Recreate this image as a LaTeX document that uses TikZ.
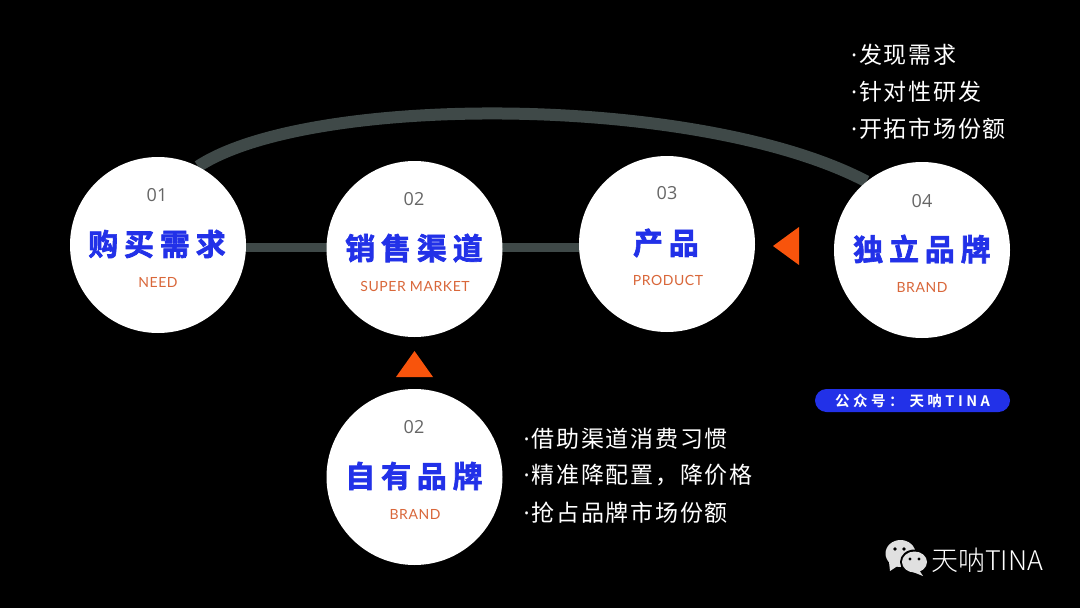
\documentclass[tikz,border=0pt]{standalone}
\usepackage{fontspec}
\usetikzlibrary{backgrounds}
\setmainfont{Lato}
\newfontfamily\cjk{Noto Sans CJK SC}
\newfontfamily\cjkt[LetterSpace=19.5,FakeBold=2.2]{Noto Sans CJK SC Bold}
\newfontfamily\cjkl[LetterSpace=7.5]{Noto Sans CJK SC}
\newfontfamily\cjkp[LetterSpace=24]{Noto Sans CJK SC Bold}
\newfontfamily\cjkg{Noto Sans CJK SC Light}
\newfontfamily\lat{Open Sans}
\newfontfamily\latl[LetterSpace=4]{Lato}
\newcommand{\lstdot}{\makebox[10pt][c]{\lat ·}}
\definecolor{bgk}{HTML}{000000}
\definecolor{linegray}{HTML}{3F4948}
\definecolor{titleblue}{HTML}{2231E8}
\definecolor{suborange}{HTML}{D9673A}
\definecolor{triorange}{HTML}{F8540C}
\definecolor{numgray}{HTML}{666666}
\tikzset{
  x=1pt,y=-1pt,
  disc/.style={circle,fill=white,minimum size=176pt,inner sep=0pt},
  numtext/.style={font=\lat\fontsize{18}{18}\selectfont,text=numgray,inner sep=0pt},
  titletext/.style={font=\cjkt\fontsize{30}{30}\selectfont,text=titleblue,inner sep=0pt},
  subtext/.style={font=\latl\fontsize{14}{14}\selectfont,text=suborange,inner sep=0pt},
  listtext/.style={font=\cjkl\fontsize{23}{23}\selectfont,text=white,inner sep=0pt,anchor=west},
  tri/.style={fill=triorange},
  conn/.style={draw=linegray,line cap=butt},
  bubble/.style={fill=white!88!black}
}
\begin{document}
\begin{tikzpicture}
\useasboundingbox (0,0) rectangle (1080,608);
\node[disc] (n1) at (158,245) {};
\node[disc] (n2) at (414.5,249) {};
\node[disc] (n3) at (667,244) {};
\node[disc] (n4) at (922,250) {};
\node[disc] (n5) at (414.5,477) {};
\coordinate (hline) at (0,247.5);
\begin{pgfonlayer}{background}
\fill[bgk] (0,0) rectangle (1080,608);
\draw[conn,line width=9pt] (n1|-hline) -- (n2|-hline);
\draw[conn,line width=9pt] (n2|-hline) -- (n3|-hline);
\draw[conn,line width=12pt] (n1.63) .. controls (310,93) and (700,94) .. (n4.129);
\end{pgfonlayer}
\node[numtext] (a1) at (157,195) {01};
\node[titletext] (b1) at (157,244) {购买需求};
\node[subtext] (c1) at (158,282) {NEED};
\node[numtext] (a2) at (414,199) {02};
\node[titletext] (b2) at (414,248) {销售渠道};
\node[subtext] (c2) at (415,286) {SUPER MARKET};
\node[numtext] (a3) at (667,193) {03};
\node[titletext] (b3) at (666,243) {产品};
\node[subtext] (c3) at (668,280) {PRODUCT};
\node[numtext] (a4) at (922,201) {04};
\node[titletext] (b4) at (922,249) {独立品牌};
\node[subtext] (c4) at (922,287) {BRAND};
\node[numtext] (a5) at (414,427) {02};
\node[titletext] (b5) at (414,476) {自有品牌};
\node[subtext] (c5) at (415,514) {BRAND};
\fill[tri] (773,246) -- (799,227) -- (799,265) -- cycle;
\fill[tri] (414.5,351) -- (396,377) -- (433,377) -- cycle;
\node[listtext] (t1) at (849,54.5) {\lstdot 发现需求};
\node[listtext] (t2) at (849,91.5) {\lstdot 针对性研发};
\node[listtext] (t3) at (849,128.5) {\lstdot 开拓市场份额};
\node[listtext] (t4) at (521.5,438.5) {\lstdot 借助渠道消费习惯};
\node[listtext] (t5) at (521.5,475.5) {\lstdot 精准降配置，降价格};
\node[listtext] (t6) at (521.5,512.5) {\lstdot 抢占品牌市场份额};
\node[fill=titleblue,rounded corners=11.5pt,minimum width=195pt,minimum height=23pt,inner sep=0pt,
      text=white,font=\cjkp\fontsize{14.5}{14.5}\selectfont] (p) at (912.5,400.5) {公众号：\hspace{6pt}天呐TINA};
% WeChat mark
\fill[bubble] (900.5,553.5) ellipse (15 and 13.5);
\fill[bubble] (889,562) -- (890,571) -- (899,565) -- cycle;
\fill[black] (914.5,562) ellipse (14.5 and 12.5);
\fill[bubble] (914.5,562) ellipse (12.5 and 10.5);
\fill[bubble] (919,570) -- (923,576) -- (913,572) -- cycle;
\fill[black] (895,549) circle (1.8) (904,549) circle (1.8) (910,559) circle (1.6) (919,559) circle (1.6);
\node[text=white,font=\cjkg\fontsize{27}{27}\selectfont,anchor=west,inner sep=0pt] (w) at (931,560) {天呐TINA};
\end{tikzpicture}
\end{document}
